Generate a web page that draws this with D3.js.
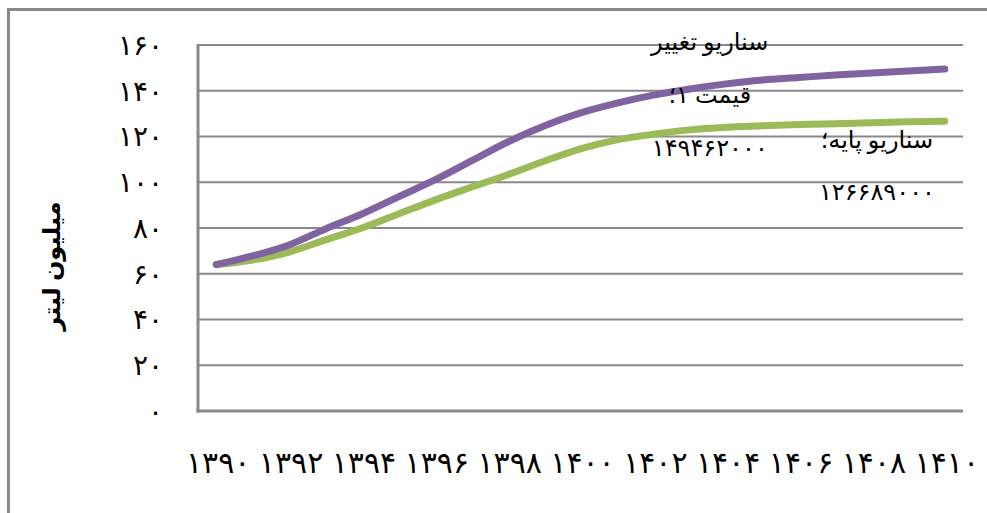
<!DOCTYPE html>
<html><head><meta charset="utf-8">
<script src="https://cdn.jsdelivr.net/npm/d3@7"></script>
<style>
html,body{margin:0;padding:0;background:#fff;}
svg{display:block;}
text{font-family:"Liberation Serif","DejaVu Serif","DejaVu Sans",serif;}
</style></head>
<body>
<svg id="chart" width="987" height="513"></svg>
<script>
const categories = ["۱۳۹۰","۱۳۹۱","۱۳۹۲","۱۳۹۳","۱۳۹۴","۱۳۹۵","۱۳۹۶","۱۳۹۷","۱۳۹۸","۱۳۹۹","۱۴۰۰","۱۴۰۱","۱۴۰۲","۱۴۰۳","۱۴۰۴","۱۴۰۵","۱۴۰۶","۱۴۰۷","۱۴۰۸","۱۴۰۹","۱۴۱۰"];
const xTickLabels = ["۱۳۹۰","۱۳۹۲","۱۳۹۴","۱۳۹۶","۱۳۹۸","۱۴۰۰","۱۴۰۲","۱۴۰۴","۱۴۰۶","۱۴۰۸","۱۴۱۰"];
const priceChange = [64.0,67.8,72.6,79.6,86.1,93.6,101.0,109.3,117.6,124.6,130.3,134.6,138.1,140.8,143.0,144.7,145.8,146.9,147.8,148.6,149.462];
const baseline    = [64.0,66.0,69.5,74.8,80.0,86.1,92.2,97.8,103.3,109.2,114.6,118.5,121.0,122.9,124.0,124.7,125.2,125.6,126.0,126.4,126.689];
const yTicks = [0,20,40,60,80,100,120,140,160];
const yTickLabels = ["۰","۲۰","۴۰","۶۰","۸۰","۱۰۰","۱۲۰","۱۴۰","۱۶۰"];
const yTitle = "میلیون لیتر";
const labelPrice = ["سناریو تغییر","قیمت ۱؛","۱۴۹۴۶۲۰۰۰"];
const labelBase = ["سناریو پایه؛","۱۲۶۶۸۹۰۰۰"];

const svg = d3.select("#chart");
const grid = "#898989";

svg.append("path").attr("d","M8.5,513 L8.5,9.5 L987,9.5")
  .attr("fill","none").attr("stroke",grid).attr("stroke-width",3);

const x = d3.scalePoint().domain(categories).range([198,963]).padding(0.5);
const y = d3.scaleLinear().domain([0,160]).range([411,45]);

svg.append("g").selectAll("line").data(yTicks.filter(d=>d>0)).join("line")
  .attr("x1",198).attr("x2",963).attr("y1",d=>y(d)).attr("y2",d=>y(d))
  .attr("stroke",grid).attr("stroke-width",2.2);

svg.append("line").attr("x1",198).attr("x2",198).attr("y1",y(160)-1).attr("y2",y(0)+1.5)
  .attr("stroke",grid).attr("stroke-width",3);
svg.append("line").attr("x1",196.5).attr("x2",963).attr("y1",y(0)).attr("y2",y(0))
  .attr("stroke",grid).attr("stroke-width",3);

svg.append("g").selectAll("text").data(yTicks).join("text")
  .attr("x",163).attr("y",d=>y(d)).attr("dy","0.35em")
  .attr("text-anchor","end").attr("font-size",28).attr("fill","#000")
  .text((d,i)=>yTickLabels[i]);

svg.append("g").selectAll("text").data(xTickLabels).join("text")
  .attr("x",d=>x(d)+2).attr("y",462).attr("dy","0.35em")
  .attr("text-anchor","middle").attr("font-size",30).attr("letter-spacing",2).attr("fill","#000")
  .text(d=>d);

svg.append("text").attr("transform","translate(52,266) rotate(-90)")
  .attr("text-anchor","middle").attr("dy","0.35em")
  .attr("font-size",24).attr("font-weight","bold").text(yTitle);

const line = d3.line().x((d,i)=>x(categories[i])).y(d=>y(d)).curve(d3.curveMonotoneX);
svg.append("path").datum(baseline).attr("d",line)
  .attr("fill","none").attr("stroke","#9BBB59").attr("stroke-width",7).attr("stroke-linecap","round");
svg.append("path").datum(priceChange).attr("d",line)
  .attr("fill","none").attr("stroke","#8064A2").attr("stroke-width",7).attr("stroke-linecap","round");

const lp = svg.append("g").attr("font-size",24).attr("text-anchor","middle").attr("direction","rtl");
labelPrice.forEach((t,i)=>{
  lp.append("text").attr("x",x(categories[13])+20).attr("y",50+i*53).text(t);
});
labelBase.forEach((t,i)=>{
  lp.append("text").attr("x",x(categories[18])+5).attr("y",148+i*52).text(t);
});
</script>
</body></html>
